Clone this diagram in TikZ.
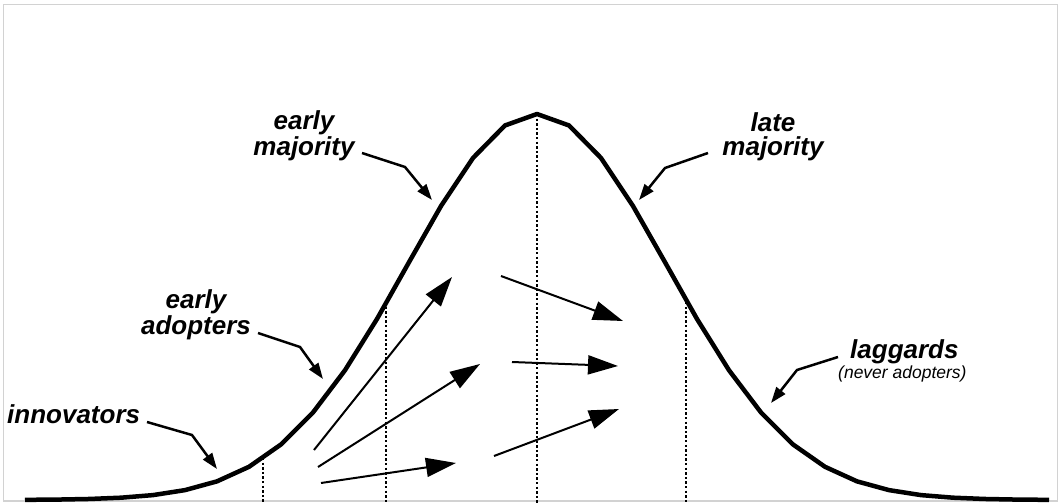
\documentclass[tikz,border=0pt]{standalone}
\usepackage{fontspec}
\setmainfont{Liberation Sans}
\usetikzlibrary{arrows.meta}
\begin{document}
\begin{tikzpicture}[x=1pt,y=-1pt,
 lbl/.style={font=\fontsize{26}{23.5}\selectfont\bfseries\itshape, align=center, inner sep=0pt},
 sublbl/.style={font=\fontsize{17.5}{18}\selectfont\itshape, inner sep=0pt},
 bellcurve/.style={line width=4.5pt, line join=round},
 divider/.style={line width=2.4pt, dash pattern=on 2.4pt off 2.2pt},
 flow/.style={line width=2pt, -{Triangle[length=30pt,width=19pt]}},
 pointer/.style={line width=2.5pt, -{Triangle[length=16pt,width=11pt]}},
]
\useasboundingbox (0,0) rectangle (1058,503);
\draw[gray!35, line width=1.5pt] (3.5,4.5) rectangle (1057.5,501);

% dividers
\coordinate (d1) at (263,458);
\coordinate (d2) at (386,302);
\coordinate (d3) at (537,114);
\coordinate (d4) at (686,302);
\foreach \d in {d1,d2,d3,d4}
  \draw[divider] (\d) -- (\d |- 0,503);

% bell curve
\draw[bellcurve] plot[domain=-16:16, samples=33] ({537+32*\x}, {500-386*exp(-0.030296*\x*\x)});

% flow arrows
\coordinate (f1s) at (314,450); \coordinate (f1e) at (452,277);
\coordinate (f2s) at (318,467); \coordinate (f2e) at (480,364);
\coordinate (f3s) at (321,483); \coordinate (f3e) at (456,463);
\coordinate (f4s) at (501,276); \coordinate (f4e) at (623,321);
\coordinate (f5s) at (512,362); \coordinate (f5e) at (618,366);
\coordinate (f6s) at (494,456); \coordinate (f6e) at (619,409);
\foreach \i in {1,...,6}
  \draw[flow] (f\i s) -- (f\i e);

% labels
\node[lbl, anchor=base west] (inn) at (7,423) {innovators};
\node[lbl, anchor=base] (ea) at (196,334) {early\\adopters};
\node[lbl, anchor=base] (em) at (304,155) {early\\majority};
\node[lbl, anchor=base] (lm) at (773,155) {late\\majority};
\node[lbl, anchor=base west] (lag) at (850,358) {laggards};
\node[sublbl, anchor=base west] (never) at (838,378) {(never adopters)};

% pointers
\coordinate (innK) at (192,435); \coordinate (innT) at (217,469);
\draw[pointer] (147,422) -- (innK) -- (innT);
\coordinate (eaK) at (300,347); \coordinate (eaT) at (323,379);
\draw[pointer] (258,333) -- (eaK) -- (eaT);
\coordinate (emK) at (405,167); \coordinate (emT) at (432,200);
\draw[pointer] (362,153) -- (emK) -- (emT);
\coordinate (lmK) at (665,168); \coordinate (lmT) at (639,200);
\draw[pointer] (708,153) -- (lmK) -- (lmT);
\coordinate (lagK) at (797,370); \coordinate (lagT) at (771,403);
\draw[pointer] (838,357) -- (lagK) -- (lagT);
\end{tikzpicture}
\end{document}
